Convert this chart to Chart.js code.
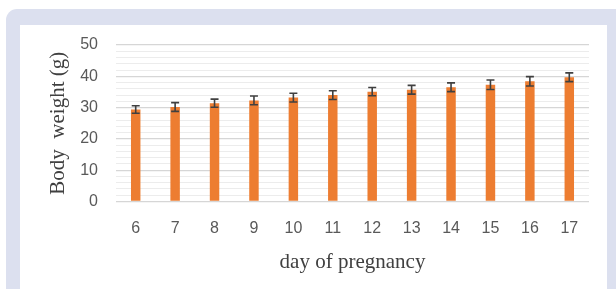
<!DOCTYPE html>
<html>
<head>
<meta charset="utf-8">
<script src="https://cdn.jsdelivr.net/npm/chart.js@4/dist/chart.umd.min.js"></script>
<style>
  html, body { margin: 0; padding: 0; background: #ffffff; }
  #wrap { position: relative; width: 616px; height: 289px; overflow: hidden; }
  #frame { position: absolute; left: 6px; top: 9px; width: 640px; height: 320px; background: #dce0ef; border-radius: 11px; }
  #panel { position: absolute; left: 20px; top: 25px; width: 587px; height: 300px; background: #ffffff; }
  canvas { position: absolute; left: 0; top: 0; }
</style>
</head>
<body>
<div id="wrap">
  <div id="frame"></div>
  <div id="panel"></div>
  <canvas id="c" width="616" height="289"></canvas>
</div>
<script>
const days = ['6','7','8','9','10','11','12','13','14','15','16','17'];
const bodyWeight = [29.4, 30.2, 31.4, 32.3, 33.2, 34.0, 35.1, 35.7, 36.5, 37.3, 38.4, 39.7];
const errorSD = [1.2, 1.4, 1.3, 1.4, 1.4, 1.4, 1.3, 1.4, 1.4, 1.5, 1.5, 1.4];
const yMin = 0, yMax = 50, yStep = 2, yLabelStep = 10;

const errorBars = {
  id: 'errorBars',
  afterDatasetsDraw(chart) {
    const ctx = chart.ctx;
    const meta = chart.getDatasetMeta(0);
    const ys = chart.scales.y;
    ctx.save();
    ctx.strokeStyle = '#404040';
    ctx.lineWidth = 1.6;
    meta.data.forEach((bar, i) => {
      const v = bodyWeight[i], e = errorSD[i];
      const yt = ys.getPixelForValue(v + e);
      const yb = ys.getPixelForValue(v - e);
      const x = bar.x;
      const hw = 4;
      ctx.beginPath();
      ctx.moveTo(x, yt); ctx.lineTo(x, yb);
      ctx.moveTo(x - hw, yt); ctx.lineTo(x + hw, yt);
      ctx.moveTo(x - hw, yb); ctx.lineTo(x + hw, yb);
      ctx.stroke();
    });
    ctx.restore();
  }
};

new Chart(document.getElementById('c'), {
  type: 'bar',
  data: {
    labels: days,
    datasets: [{
      data: bodyWeight,
      backgroundColor: '#ED7D31',
      borderWidth: 0,
      barPercentage: 0.24,
      categoryPercentage: 1.0
    }]
  },
  options: {
    responsive: false,
    animation: false,
    devicePixelRatio: 1,
    layout: { padding: { left: 20, right: 27, top: 45, bottom: 0 } },
    plugins: { legend: { display: false }, tooltip: { enabled: false } },
    scales: {
      x: {
        grid: { display: false, drawTicks: false },
        border: { display: false },
        ticks: { color: '#595959', font: { family: 'Liberation Sans', size: 16 }, padding: 17 },
        title: { display: true, text: 'day of pregnancy', color: '#404040',
                 font: { family: 'Liberation Serif', size: 21 }, padding: { top: 0, bottom: 14 } },
        afterFit(s) { s.height = 87.5; }
      },
      y: {
        min: yMin, max: yMax,
        grid: {
          drawTicks: false,
          color: (c) => (c.tick && c.tick.value % yLabelStep === 0) ? '#d6d6d6' : '#ececec',
          lineWidth: (c) => (c.tick && c.tick.value % yLabelStep === 0) ? 1.3 : 1
        },
        border: { display: false },
        ticks: {
          stepSize: yStep,
          autoSkip: false,
          padding: 18,
          color: '#595959',
          font: { family: 'Liberation Sans', size: 16 },
          callback: (v) => (v % yLabelStep === 0) ? String(v) : ''
        },
        title: { display: true, text: 'Body  weight (g)', color: '#404040',
                 font: { family: 'Liberation Serif', size: 21 }, padding: { top: 26, bottom: 0 } },
        afterFit(s) { s.width = 96; }
      }
    }
  },
  plugins: [errorBars]
});
</script>
</body>
</html>
